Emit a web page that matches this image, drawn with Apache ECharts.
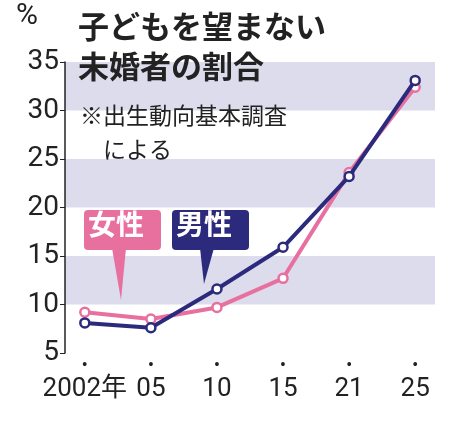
<!DOCTYPE html><html><head><meta charset="utf-8"><script src="https://cdn.jsdelivr.net/npm/echarts@6/dist/echarts.min.js"></script>
<style>body{margin:0}#c{width:450px;height:421px}</style></head><body><div id="c"></div><script>
const categories=['2002年','05','10','15','21','25'];
const female=[9.2,8.5,9.7,12.7,23.6,32.4];
const male=[8.1,7.6,11.6,15.9,23.2,33.1];
const yTicks=[5,10,15,20,25,30,35];
const PINK='#e8709f',NAVY='#2b2a7c';
const idx=categories.map((_,i)=>i);
const ch=echarts.init(document.getElementById('c'));
const F='"Liberation Sans Narrow","Roboto","Noto Sans CJK JP",sans-serif';
const J='"Noto Sans CJK JP"';
function ser(name,vals,color){return{name,type:'line',data:vals.map((v,i)=>[i,v]),symbol:'circle',symbolSize:9,
lineStyle:{color,width:4},itemStyle:{color:'#fff',borderColor:color,borderWidth:2.5},z:name==='男性'?3:2};}
ch.setOption({animation:false,
grid:{left:65,right:15,top:62,bottom:68},
xAxis:{type:'value',min:-0.3,max:5.3,splitLine:{show:false},axisLine:{show:false},axisTick:{show:false},
 axisLabel:{customValues:idx,formatter:v=>'{d|•}\n{l|'+categories[v]+'}',margin:4,
  rich:{d:{fontSize:14,color:'#222',lineHeight:16},l:{fontSize:26,fontFamily:F,color:'#222',lineHeight:32}}}},
yAxis:{type:'value',min:5,max:35,interval:5,axisLine:{show:true,onZero:false,lineStyle:{color:'#222',width:1.5}},
 axisTick:{show:true,length:5,lineStyle:{color:'#222'}},splitLine:{show:false},
 splitArea:{show:true,areaStyle:{color:['#ffffff','#dcdcec']}},
 axisLabel:{fontSize:28,fontFamily:F,color:'#222',margin:6}},
series:[ser('女性',female,PINK),ser('男性',male,NAVY)],
graphic:[
 {type:'text',z:100,left:16,top:2,style:{text:'%',fontSize:30,fontFamily:F,fill:'#222'}},
 {type:'text',z:100,left:78,top:6,style:{text:'子どもを望まない\n未婚者の割合',fontSize:31,fontWeight:'bold',lineHeight:40,fontFamily:J,fill:'#222'}},
 {type:'text',z:100,left:80,top:98,style:{text:'※出生動向基本調査\n　による',fontSize:23,lineHeight:34,fontFamily:J,fill:'#222'}},
 {type:'polygon',z:100,shape:{points:[[112,248],[126,248],[121,300]]},style:{fill:PINK}},
 {type:'rect',z:100,shape:{x:84,y:210,width:77,height:40,r:4},style:{fill:PINK}},
 {type:'text',z:101,left:88,top:210,style:{text:'女性',fontSize:28,fontWeight:'bold',fontFamily:J,fill:'#fff'}},
 {type:'polygon',z:100,shape:{points:[[200,248],[214,248],[204,284]]},style:{fill:NAVY}},
 {type:'rect',z:100,shape:{x:172,y:210,width:77,height:40,r:4},style:{fill:NAVY}},
 {type:'text',z:101,left:176,top:210,style:{text:'男性',fontSize:28,fontWeight:'bold',fontFamily:J,fill:'#fff'}}
]});
</script></body></html>
